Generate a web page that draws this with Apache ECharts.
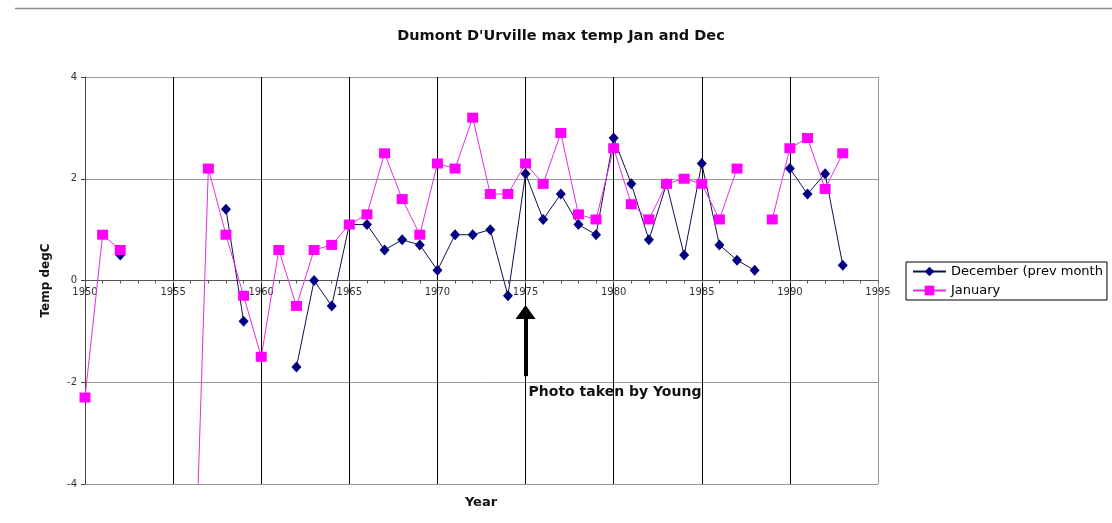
<!DOCTYPE html>
<html>
<head>
<meta charset="utf-8">
<script src="https://cdn.jsdelivr.net/npm/echarts@6/dist/echarts.min.js"></script>
<style>
html,body{margin:0;padding:0;background:#fff;}
#chart{width:1112px;height:523px;}
</style>
</head>
<body>
<div id="chart"></div>
<script>
const years = [];
for (let y = 1950; y <= 1995; y++) years.push(String(y));

const december = [
  null, null, 0.5, null, null, null, null, null, 1.4, -0.8,
  null, null, -1.7, 0.0, -0.5, 1.1, 1.1, 0.6, 0.8, 0.7,
  0.2, 0.9, 0.9, 1.0, -0.3, 2.1, 1.2, 1.7, 1.1, 0.9,
  2.8, 1.9, 0.8, 1.9, 0.5, 2.3, 0.7, 0.4, 0.2, null,
  2.2, 1.7, 2.1, 0.3, null, null
];
const january = [
  -2.3, 0.9, 0.6, null, null, null, -8.5, 2.2, 0.9, -0.3,
  -1.5, 0.6, -0.5, 0.6, 0.7, 1.1, 1.3, 2.5, 1.6, 0.9,
  2.3, 2.2, 3.2, 1.7, 1.7, 2.3, 1.9, 2.9, 1.3, 1.2,
  2.6, 1.5, 1.2, 1.9, 2.0, 1.9, 1.2, 2.2, null, 1.2,
  2.6, 2.8, 1.8, 2.5, null, null
];
const seriesNames = ['December (prev month)', 'January'];
const titleText = "Dumont D'Urville max temp Jan and Dec";
const xName = 'Year';
const yName = 'Temp degC';
const photoYear = '1975';
const photoText = 'Photo taken by Young';
const yMin = -4, yMax = 4, yStep = 2;

const FONT = 'DejaVu Sans';
const chart = echarts.init(document.getElementById('chart'), null, {renderer: 'canvas'});

const splitColors = ['#000','#000','#000','#000','#000','#000','#000','#000','#000','#999'];

const gridTop = 77, gridBottom = 39, chartH = 523;
const plotH = chartH - gridTop - gridBottom;
// move the category axis up to the y = 0 line
const zeroOffset = -plotH * (0 - yMin) / (yMax - yMin);

chart.setOption({
  animation: false,
  backgroundColor: '#fff',
  title: [
    {
      text: titleText, left: 561, top: 29, textAlign: 'center', padding: 0,
      textStyle: {fontFamily: FONT, fontSize: 14.5, fontWeight: 'bold', color: '#111'}
    },
    {
      text: xName, left: 481, top: 496, textAlign: 'center', padding: 0,
      textStyle: {fontFamily: FONT, fontSize: 13, fontWeight: 'bold', color: '#111'}
    }
  ],
  graphic: [
    {type: 'line', shape: {x1: 15, y1: 8.5, x2: 1112, y2: 8.5}, style: {stroke: '#8c8c8c', lineWidth: 1.5}, silent: true}
  ],
  legend: {
    orient: 'vertical', left: 906, top: 262,
    padding: [3, 4, 3, 6], itemGap: 6, itemWidth: 33, itemHeight: 12,
    borderColor: '#000', borderWidth: 1, backgroundColor: '#fff',
    textStyle: {fontFamily: FONT, fontSize: 13, color: '#000', width: 157, overflow: 'truncate', ellipsis: ''},
    data: seriesNames
  },
  grid: {left: 85, right: 234, top: gridTop, bottom: gridBottom, containLabel: false},
  xAxis: {
    type: 'category', data: years, boundaryGap: false,
    position: 'bottom', offset: zeroOffset,
    axisLine: {onZero: false, lineStyle: {color: '#555', width: 1}},
    axisTick: {show: true, interval: 0, length: 3, lineStyle: {color: '#555'}},
    axisLabel: {interval: 4, fontFamily: FONT, fontSize: 10, color: '#333', margin: 7},
    splitLine: {show: true, interval: 4, lineStyle: {color: splitColors, width: 1}}
  },
  yAxis: {
    type: 'value', min: yMin, max: yMax, interval: yStep,
    name: yName, nameLocation: 'middle', nameGap: 33,
    nameTextStyle: {fontFamily: FONT, fontSize: 12, fontWeight: 'bold', color: '#111'},
    axisLine: {show: true, lineStyle: {color: '#444'}},
    axisTick: {show: true, length: 4, lineStyle: {color: '#444'}},
    axisLabel: {fontFamily: FONT, fontSize: 10, color: '#333', margin: 8},
    splitLine: {show: true, lineStyle: {color: '#999', width: 1}}
  },
  series: [
    {
      name: seriesNames[0], type: 'line', data: december,
      connectNulls: false, showAllSymbol: true, clip: true,
      symbol: 'diamond', symbolSize: [10, 11],
      itemStyle: {color: '#000080'},
      lineStyle: {color: '#101050', width: 1},
      z: 3,
      markLine: {
        silent: true, animation: false,
        lineStyle: {color: '#000', width: 4, type: 'solid'},
        label: {show: false},
        data: [[
          {coord: [photoYear, -1.88], symbol: 'none'},
          {coord: [photoYear, -0.62], symbol: 'triangle', symbolSize: [20, 14]}
        ]]
      },
      markPoint: {
        silent: true, animation: false,
        symbol: 'rect', symbolSize: 0,
        itemStyle: {color: 'rgba(0,0,0,0)'},
        label: {show: true, position: 'right', distance: 3, formatter: photoText,
          fontFamily: FONT, fontSize: 14, fontWeight: 'bold', color: '#111'},
        data: [{coord: [photoYear, -2.2]}]
      }
    },
    {
      name: seriesNames[1], type: 'line', data: january,
      connectNulls: false, showAllSymbol: true, clip: true,
      symbol: 'rect', symbolSize: [11, 10],
      itemStyle: {color: '#ff00ff'},
      lineStyle: {color: '#e030e0', width: 1},
      z: 4
    }
  ]
});
</script>
</body>
</html>
